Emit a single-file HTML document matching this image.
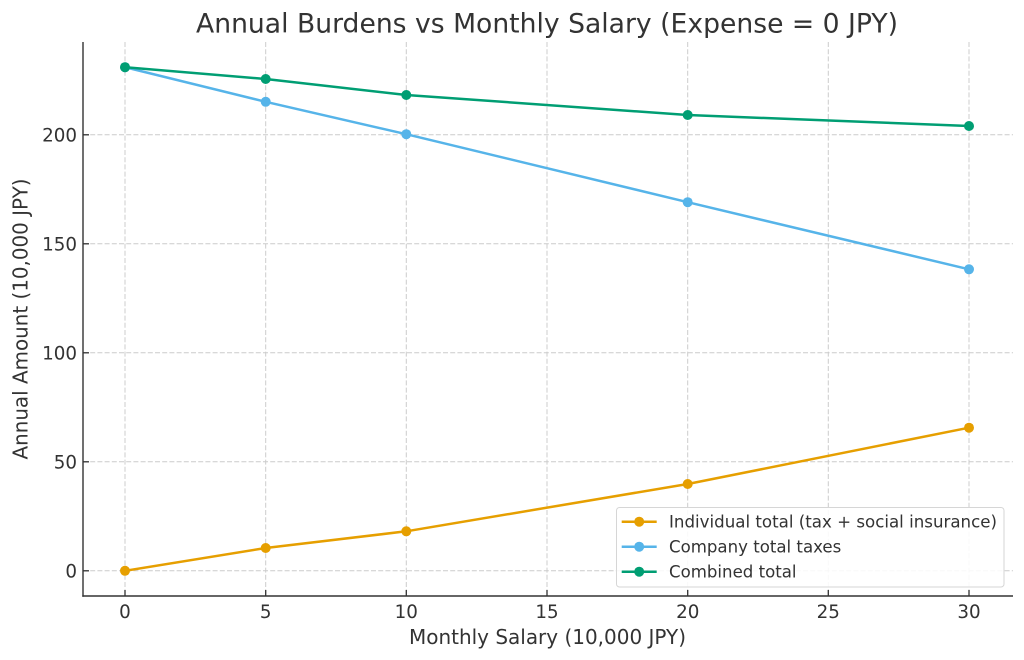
<!DOCTYPE html>
<html>
<head>
<meta charset="utf-8">
<style>
  html, body { margin:0; padding:0; background:#ffffff; }
  svg { display:block; }
  text { font-family: "DejaVu Sans", "Liberation Sans", sans-serif; fill:#333333; }
</style>
</head>
<body>
<svg width="1024" height="660" viewBox="0 0 1024 660" xmlns="http://www.w3.org/2000/svg">
  <rect x="0" y="0" width="1024" height="660" fill="#ffffff"/>

  <!-- grid -->
  <g stroke="#cccccc" stroke-width="1" stroke-dasharray="5,2.2" fill="none">
    <line x1="125" y1="42" x2="125" y2="596"/>
    <line x1="265.7" y1="42" x2="265.7" y2="596"/>
    <line x1="406.3" y1="42" x2="406.3" y2="596"/>
    <line x1="547" y1="42" x2="547" y2="596"/>
    <line x1="687.7" y1="42" x2="687.7" y2="596"/>
    <line x1="828.3" y1="42" x2="828.3" y2="596"/>
    <line x1="969" y1="42" x2="969" y2="596"/>

    <line x1="83" y1="570.8" x2="1013" y2="570.8"/>
    <line x1="83" y1="461.8" x2="1013" y2="461.8"/>
    <line x1="83" y1="352.8" x2="1013" y2="352.8"/>
    <line x1="83" y1="243.8" x2="1013" y2="243.8"/>
    <line x1="83" y1="134.8" x2="1013" y2="134.8"/>
  </g>

  <!-- spines -->
  <g stroke="#333333" stroke-width="1.4" fill="none">
    <line x1="83" y1="42" x2="83" y2="596.7"/>
    <line x1="82.3" y1="596" x2="1013" y2="596"/>
  </g>

  <!-- ticks (inward) -->
  <g stroke="#333333" stroke-width="1.3">
    <line x1="125" y1="596" x2="125" y2="590"/>
    <line x1="265.7" y1="596" x2="265.7" y2="590"/>
    <line x1="406.3" y1="596" x2="406.3" y2="590"/>
    <line x1="547" y1="596" x2="547" y2="590"/>
    <line x1="687.7" y1="596" x2="687.7" y2="590"/>
    <line x1="828.3" y1="596" x2="828.3" y2="590"/>
    <line x1="969" y1="596" x2="969" y2="590"/>

    <line x1="83" y1="570.8" x2="89" y2="570.8"/>
    <line x1="83" y1="461.8" x2="89" y2="461.8"/>
    <line x1="83" y1="352.8" x2="89" y2="352.8"/>
    <line x1="83" y1="243.8" x2="89" y2="243.8"/>
    <line x1="83" y1="134.8" x2="89" y2="134.8"/>
  </g>

  <!-- x tick labels -->
  <g font-size="18.3" text-anchor="middle">
    <text x="125" y="618">0</text>
    <text x="265.7" y="618">5</text>
    <text x="406.3" y="618">10</text>
    <text x="547" y="618">15</text>
    <text x="687.7" y="618">20</text>
    <text x="828.3" y="618">25</text>
    <text x="969" y="618">30</text>
  </g>

  <!-- y tick labels -->
  <g font-size="18.3" text-anchor="end">
    <text x="77" y="577.5">0</text>
    <text x="77" y="468.5">50</text>
    <text x="77" y="359.5">100</text>
    <text x="77" y="250.5">150</text>
    <text x="77" y="141.5">200</text>
  </g>

  <!-- axis labels -->
  <text x="547.5" y="644" font-size="20" text-anchor="middle" textLength="277" lengthAdjust="spacingAndGlyphs">Monthly Salary (10,000 JPY)</text>
  <text transform="translate(27.5,319) rotate(-90)" x="0" y="0" font-size="20" text-anchor="middle" textLength="281" lengthAdjust="spacingAndGlyphs">Annual Amount (10,000 JPY)</text>

  <!-- title -->
  <text x="547" y="32.3" font-size="26.6" text-anchor="middle" textLength="702" lengthAdjust="spacingAndGlyphs">Annual Burdens vs Monthly Salary (Expense = 0 JPY)</text>

  <!-- series: Individual -->
  <g>
    <polyline fill="none" stroke="#E69F00" stroke-width="2.5" stroke-linejoin="round"
      points="125,570.8 265.7,548.0 406.3,531.3 687.7,484.0 969,427.7"/>
    <g fill="#E69F00">
      <circle cx="125" cy="570.8" r="5"/>
      <circle cx="265.7" cy="548.0" r="5"/>
      <circle cx="406.3" cy="531.3" r="5"/>
      <circle cx="687.7" cy="484.0" r="5"/>
      <circle cx="969" cy="427.7" r="5"/>
    </g>
  </g>

  <!-- series: Company -->
  <g>
    <polyline fill="none" stroke="#56B4E9" stroke-width="2.5" stroke-linejoin="round"
      points="125,67.2 265.7,101.8 406.3,134.2 687.7,202.2 969,269.3"/>
    <g fill="#56B4E9">
      <circle cx="125" cy="67.2" r="5"/>
      <circle cx="265.7" cy="101.8" r="5"/>
      <circle cx="406.3" cy="134.2" r="5"/>
      <circle cx="687.7" cy="202.2" r="5"/>
      <circle cx="969" cy="269.3" r="5"/>
    </g>
  </g>

  <!-- series: Combined -->
  <g>
    <polyline fill="none" stroke="#009E73" stroke-width="2.5" stroke-linejoin="round"
      points="125,67.2 265.7,79.0 406.3,95.0 687.7,115.0 969,126.0"/>
    <g fill="#009E73">
      <circle cx="125" cy="67.2" r="5"/>
      <circle cx="265.7" cy="79.0" r="5"/>
      <circle cx="406.3" cy="95.0" r="5"/>
      <circle cx="687.7" cy="115.0" r="5"/>
      <circle cx="969" cy="126.0" r="5"/>
    </g>
  </g>

  <!-- legend -->
  <rect x="616.5" y="507.5" width="387.5" height="79.5" rx="3" ry="3" fill="#ffffff" fill-opacity="0.85" stroke="#d6d6d6" stroke-width="1"/>
  <g stroke-width="2.5">
    <line x1="621.7" y1="521.7" x2="656.7" y2="521.7" stroke="#E69F00"/>
    <circle cx="639.2" cy="521.7" r="5" fill="#E69F00" stroke="none"/>
    <line x1="621.7" y1="546.7" x2="656.7" y2="546.7" stroke="#56B4E9"/>
    <circle cx="639.2" cy="546.7" r="5" fill="#56B4E9" stroke="none"/>
    <line x1="621.7" y1="571.7" x2="656.7" y2="571.7" stroke="#009E73"/>
    <circle cx="639.2" cy="571.7" r="5" fill="#009E73" stroke="none"/>
  </g>
  <g font-size="16.6">
    <text x="669" y="527.7" textLength="328" lengthAdjust="spacingAndGlyphs">Individual total (tax + social insurance)</text>
    <text x="669" y="552.7">Company total taxes</text>
    <text x="669" y="577.7">Combined total</text>
  </g>
</svg>
</body>
</html>
